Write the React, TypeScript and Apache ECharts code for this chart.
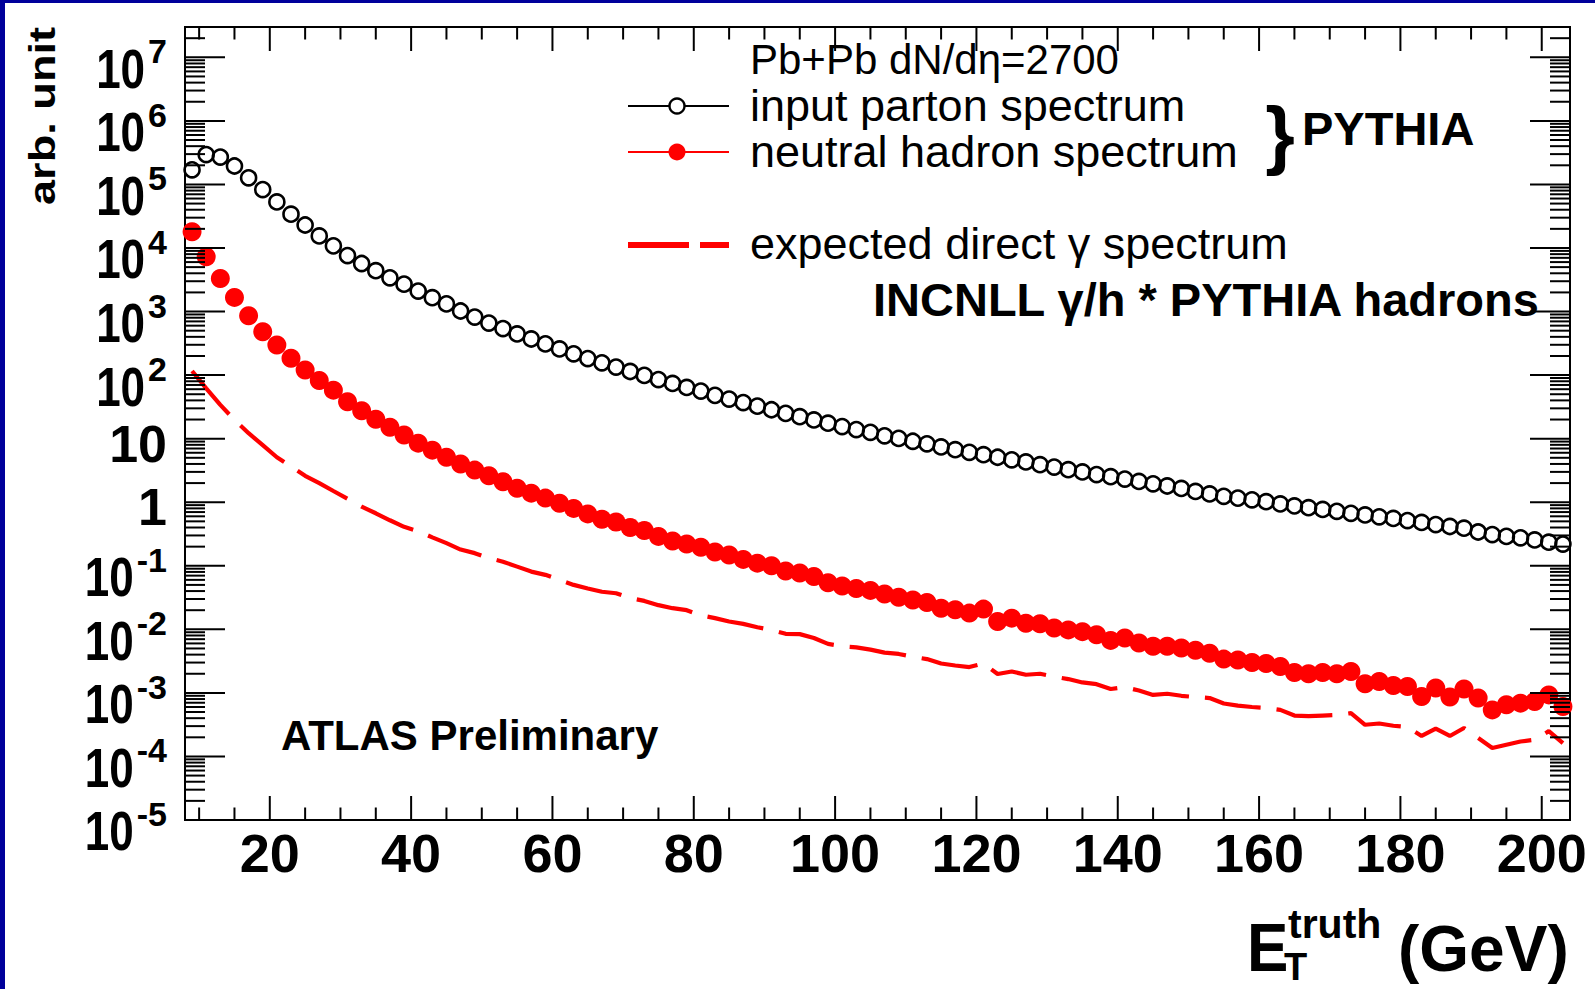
import React, { useEffect, useRef } from 'react';
import * as echarts from 'echarts';

// ---------- data (bin centres in GeV) ----------
const energyBins = [9, 11, 13, 15, 17, 19, 21, 23, 25, 27, 29, 31, 33, 35, 37, 39, 41, 43, 45, 47, 49, 51, 53, 55, 57, 59, 61, 63, 65, 67, 69, 71, 73, 75, 77, 79, 81, 83, 85, 87, 89, 91, 93, 95, 97, 99, 101, 103, 105, 107, 109, 111, 113, 115, 117, 119, 121, 123, 125, 127, 129, 131, 133, 135, 137, 139, 141, 143, 145, 147, 149, 151, 153, 155, 157, 159, 161, 163, 165, 167, 169, 171, 173, 175, 177, 179, 181, 183, 185, 187, 189, 191, 193, 195, 197, 199, 201, 203];

const partonSpectrum = [
  1.7e5, 2.95e5, 2.7e5, 1.95e5, 1.27e5, 8.3e4, 5.3e4, 3.4e4, 2.3e4, 1.55e4,
  1.08e4, 7.6e3, 5.7e3, 4.4e3, 3.4e3, 2.7e3, 2.1e3, 1.65e3, 1.32e3, 1020,
  820, 660, 540, 445, 370, 310, 258, 216, 182, 156,
  134, 114, 99, 85, 74, 64, 56, 48, 42, 37,
  32.5, 28.5, 25, 22.2, 19.7, 17.5, 15.5, 13.9, 12.6, 11.1,
  10.1, 9.1, 8.3, 7.4, 6.7, 6.1, 5.6, 5.1, 4.65, 4.3,
  3.9, 3.57, 3.25, 3.0, 2.72, 2.52, 2.31, 2.12, 1.95, 1.8,
  1.65, 1.48, 1.35, 1.24, 1.16, 1.09, 1.02, 0.94, 0.875, 0.82,
  0.77, 0.72, 0.67, 0.63, 0.59, 0.555, 0.515, 0.48, 0.445, 0.415,
  0.39, 0.34, 0.31, 0.29, 0.275, 0.255, 0.235, 0.22,
];

const hadronSpectrum = [
  1.8e4, 7.3e3, 3.3e3, 1.67e3, 860, 480, 297, 184, 120, 82,
  58, 38, 27.5, 20.2, 15.1, 11.4, 8.5, 6.6, 5.1, 4.0,
  3.2, 2.6, 2.1, 1.66, 1.39, 1.16, 0.96, 0.8, 0.655, 0.54,
  0.49, 0.4, 0.36, 0.29, 0.245, 0.22, 0.195, 0.165, 0.148, 0.126,
  0.11, 0.1, 0.083, 0.077, 0.068, 0.054, 0.048, 0.044, 0.041, 0.036,
  0.032, 0.029, 0.0264, 0.0215, 0.0203, 0.018, 0.0208, 0.0133, 0.015, 0.0125,
  0.0122, 0.0105, 0.0098, 0.0092, 0.0082, 0.0067, 0.0073, 0.0061, 0.0054, 0.0054,
  0.0051, 0.0047, 0.0042, 0.0034, 0.0033, 0.003, 0.0029, 0.0026, 0.0021, 0.002,
  0.0021, 0.002, 0.00217, 0.00139, 0.00151, 0.00131, 0.00126, 0.00088, 0.00119, 0.00086,
  0.00115, 0.00083, 0.00054, 0.00065, 0.00069, 0.00073, 0.00093, 0.00061,
];

const photonSpectrum = [
  116, 62, 34, 19.7, 12.2, 7.9, 5.1, 3.65, 2.6, 2.0,
  1.5, 1.13, 0.85, 0.67, 0.52, 0.41, 0.35, 0.28, 0.227, 0.18,
  0.158, 0.132, 0.116, 0.097, 0.081, 0.072, 0.06, 0.05, 0.044, 0.039,
  0.037, 0.031, 0.028, 0.024, 0.0215, 0.02, 0.0166, 0.015, 0.0133, 0.0122,
  0.0108, 0.0098, 0.0085, 0.0084, 0.0073, 0.0059, 0.0054, 0.0052, 0.0048, 0.0043,
  0.0041, 0.0037, 0.0034, 0.0029, 0.0027, 0.00255, 0.0029, 0.00198, 0.00217, 0.00193,
  0.002, 0.0018, 0.00165, 0.00146, 0.00137, 0.00115, 0.00123, 0.00109, 0.00093, 0.00097,
  0.0009, 0.00086, 0.00083, 0.00068, 0.00063, 0.0006, 0.00058, 0.00054, 0.00044, 0.00043,
  0.00044, 0.00045, 0.00048, 0.000315, 0.00033, 0.000304, 0.00029, 0.00021, 0.000275, 0.00021,
  0.00028, 0.000195, 0.000136, 0.000153, 0.000172, 0.000183, 0.00025, 0.000162,
];

// ---------- axes ----------
const xMin = 8;
const xMax = 204;
const yMin = 1e-5;
const yMax = 3e7;

const xTickValues = [20, 40, 60, 80, 100, 120, 140, 160, 180, 200];
const xTickLabels = ['20', '40', '60', '80', '100', '120', '140', '160', '180', '200'];
const xMinorTickValues = [10, 15, 25, 30, 35, 45, 50, 55, 65, 70, 75, 85, 90, 95, 105, 110, 115, 125, 130, 135, 145, 150, 155, 165, 170, 175, 185, 190, 195];

const yTickValues = [1e-5, 1e-4, 1e-3, 1e-2, 1e-1, 1, 10, 1e2, 1e3, 1e4, 1e5, 1e6, 1e7];
const yTickBases = ['10', '10', '10', '10', '10', '1', '10', '10', '10', '10', '10', '10', '10'];
const yTickExponents = ['-5', '-4', '-3', '-2', '-1', '', '', '2', '3', '4', '5', '6', '7'];

const yMinorTickValues: number[] = [];
for (let e = -5; e <= 7; e++) {
  for (let m = 2; m <= 9; m++) {
    const v = m * Math.pow(10, e);
    if (v < yMax) yMinorTickValues.push(v);
  }
}

const FONT = '"Liberation Sans", Arial, Helvetica, sans-serif';

let measureCtx: CanvasRenderingContext2D | null = null;
function textWidth(text: string, font: string): number {
  if (!measureCtx) {
    const c = document.createElement('canvas');
    measureCtx = c.getContext('2d');
  }
  if (!measureCtx) return text.length * 18;
  measureCtx.font = font;
  return measureCtx.measureText(text).width;
}

function tickLine(x1: number, y1: number, x2: number, y2: number, w: number) {
  return { type: 'line', shape: { x1, y1, x2, y2 }, style: { stroke: '#000', lineWidth: w } };
}

function yTickSeries(values: number[], len: number, w: number) {
  return {
    type: 'custom',
    silent: true,
    z: 4,
    data: values.map((v) => [xMin, v]),
    renderItem: (params: any, api: any) => {
      const cs = params.coordSys;
      const y = api.coord([api.value(0), api.value(1)])[1];
      return {
        type: 'group',
        children: [
          tickLine(cs.x, y, cs.x + len, y, w),
          tickLine(cs.x + cs.width - len, y, cs.x + cs.width, y, w),
        ],
      };
    },
  };
}

function xTickSeries(values: number[], len: number, w: number) {
  return {
    type: 'custom',
    silent: true,
    z: 4,
    data: values.map((v) => [v, 1]),
    renderItem: (params: any, api: any) => {
      const cs = params.coordSys;
      const x = api.coord([api.value(0), api.value(1)])[0];
      return {
        type: 'group',
        children: [
          tickLine(x, cs.y + cs.height, x, cs.y + cs.height - len, w),
          tickLine(x, cs.y, x, cs.y + len, w),
        ],
      };
    },
  };
}

function txt(text: string, x: number, y: number, font: string, align: string, extra: any = {}) {
  return {
    type: 'text',
    x,
    y,
    ...extra,
    style: {
      text,
      font,
      fill: extra.fill || '#000',
      textAlign: align,
      align,
      textVerticalAlign: 'middle',
      verticalAlign: 'middle',
    },
  };
}

export default function App() {
  const ref = useRef<HTMLDivElement>(null);

  useEffect(() => {
    if (!ref.current) return;
    const chart = echarts.init(ref.current, undefined, { renderer: 'svg' });

    const yLabelSeries = {
      type: 'custom',
      silent: true,
      z: 4,
      data: yTickValues.map((v, i) => [xMin, v, i]),
      renderItem: (params: any, api: any) => {
        const cs = params.coordSys;
        const idx = api.value(2);
        const y = api.coord([api.value(0), api.value(1)])[1];
        const right = cs.x - 18;
        const base = yTickBases[idx];
        const exp = yTickExponents[idx];
        if (!exp) {
          return txt(base, right, y + 5, `bold 52px ${FONT}`, 'right');
        }
        const expFont = `bold 34px ${FONT}`;
        const ew = textWidth(exp, expFont);
        return {
          type: 'group',
          children: [
            txt(exp, right, y - 6, expFont, 'right'),
            txt(base, right - ew - 3, y + 11, `bold 44px ${FONT}`, 'right', { scaleY: 1.27 }),
          ],
        };
      },
    };

    const option: any = {
      animation: false,
      backgroundColor: '#fff',
      grid: {
        left: 185,
        top: 27,
        width: 1385,
        height: 793,
        show: true,
        borderColor: '#000',
        borderWidth: 2,
        backgroundColor: 'transparent',
      },
      xAxis: {
        type: 'value',
        min: xMin,
        max: xMax,
        axisLine: { show: false },
        axisTick: { show: false },
        splitLine: { show: false },
        axisLabel: {
          customValues: xTickValues,
          formatter: (v: number) => {
            const i = xTickValues.indexOf(v);
            return i >= 0 ? xTickLabels[i] : '';
          },
          fontSize: 54,
          fontWeight: 'bold',
          fontFamily: FONT,
          color: '#000',
          margin: 6,
        },
      },
      yAxis: {
        type: 'log',
        logBase: 10,
        min: yMin,
        max: yMax,
        axisLine: { show: false },
        axisTick: { show: false },
        axisLabel: { show: false },
        splitLine: { show: false },
      },
      graphic: [
        // blue slide border
        { type: 'rect', shape: { x: 0, y: 0, width: 5, height: 989 }, style: { fill: '#00009b' } },
        { type: 'rect', shape: { x: 0, y: 0, width: 1595, height: 3 }, style: { fill: '#00009b' } },
        // y title
        txt('arb. unit', 42, 116, `bold 37px ${FONT}`, 'center', { rotation: Math.PI / 2, scaleX: 1.22 }),
        // legend
        txt('Pb+Pb dN/dη=2700', 750, 59, `42px ${FONT}`, 'left'),
        { type: 'line', shape: { x1: 628, y1: 106, x2: 729, y2: 106 }, style: { stroke: '#000', lineWidth: 2 } },
        { type: 'circle', shape: { cx: 677, cy: 106, r: 7.5 }, style: { fill: '#fff', stroke: '#000', lineWidth: 2.4 } },
        txt('input parton spectrum', 750, 105, `45px ${FONT}`, 'left'),
        { type: 'line', shape: { x1: 628, y1: 152, x2: 729, y2: 152 }, style: { stroke: '#ff0000', lineWidth: 2 } },
        { type: 'circle', shape: { cx: 677, cy: 152, r: 8.5 }, style: { fill: '#ff0000' } },
        txt('neutral hadron spectrum', 750, 151, `45px ${FONT}`, 'left'),
        txt('}', 1280, 133, `bold 76px ${FONT}`, 'center'),
        txt('PYTHIA', 1302, 128, `bold 47px ${FONT}`, 'left'),
        { type: 'line', shape: { x1: 628, y1: 245, x2: 729, y2: 245 }, style: { stroke: '#ff0000', lineWidth: 6, lineDash: [61, 11] } },
        txt('expected direct γ spectrum', 750, 243, `45px ${FONT}`, 'left'),
        txt('INCNLL γ/h * PYTHIA hadrons', 873, 299, `bold 47px ${FONT}`, 'left'),
        txt('ATLAS Preliminary', 281, 735, `bold 42px ${FONT}`, 'left'),
        // x title
        txt('E', 1247, 947, `bold 62px ${FONT}`, 'left', { scaleY: 1.1 }),
        txt('T', 1284, 967, `bold 38px ${FONT}`, 'left'),
        txt('truth', 1288, 924, `bold 41px ${FONT}`, 'left'),
        txt('(GeV)', 1398, 949, `bold 64px ${FONT}`, 'left'),
      ],
      series: [
        yTickSeries(yTickValues, 40, 2),
        yTickSeries(yMinorTickValues, 20, 2),
        xTickSeries(xTickValues, 24, 2),
        xTickSeries(xMinorTickValues, 12.5, 2),
        yLabelSeries,
        {
          name: 'expected direct γ spectrum',
          type: 'line',
          data: energyBins.map((e, i) => [e, photonSpectrum[i]]),
          showSymbol: false,
          symbol: 'none',
          z: 2,
          lineStyle: { color: '#ff0000', width: 4.2, type: [57, 16], cap: 'butt' },
        },
        {
          name: 'neutral hadron spectrum',
          type: 'scatter',
          data: energyBins.map((e, i) => [e, hadronSpectrum[i]]),
          symbol: 'circle',
          symbolSize: 19,
          z: 3,
          itemStyle: { color: '#ff0000', opacity: 1 },
        },
        {
          name: 'input parton spectrum',
          type: 'scatter',
          data: energyBins.map((e, i) => [e, partonSpectrum[i]]),
          symbol: 'circle',
          symbolSize: 15,
          z: 3,
          itemStyle: { color: 'rgba(0,0,0,0)', borderColor: '#000', borderWidth: 2.6, opacity: 1 },
        },
      ],
    };

    chart.setOption(option);
    return () => {
      chart.dispose();
    };
  }, []);

  return (
    <div
      ref={ref}
      style={{ position: 'absolute', left: 0, top: 0, width: '1595px', height: '989px', background: '#fff' }}
    />
  );
}
